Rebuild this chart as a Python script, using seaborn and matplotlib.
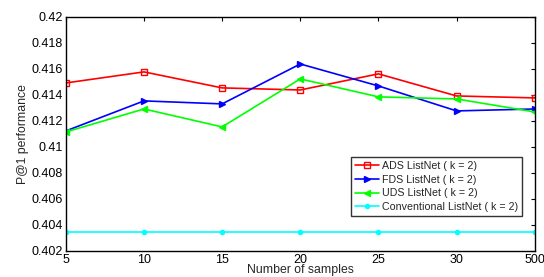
import matplotlib
matplotlib.use("Agg")
import matplotlib.pyplot as plt
import seaborn as sns
import pandas as pd

samples = ["5", "10", "15", "20", "25", "30", "500"]
ads = [0.41492, 0.41577, 0.41454, 0.41438, 0.41562, 0.41392, 0.41377]
fds = [0.41123, 0.41354, 0.41331, 0.41638, 0.41469, 0.41277, 0.41292]
uds = [0.41115, 0.41292, 0.41154, 0.41523, 0.41385, 0.41369, 0.41269]
conv = [0.40346, 0.40346, 0.40346, 0.40346, 0.40346, 0.40346, 0.40346]
names = ["ADS ListNet ( k = 2)", "FDS ListNet ( k = 2)", "UDS ListNet ( k = 2)",
         "Conventional ListNet ( k = 2)"]
yticks = [0.402, 0.404, 0.406, 0.408, 0.41, 0.412, 0.414, 0.416, 0.418, 0.42]

sns.set_style("white")
plt.rcParams['font.family'] = ['Liberation Sans', 'DejaVu Sans']
plt.rcParams['font.size'] = 9

rows = []
for name, vals in zip(names, [ads, fds, uds, conv]):
    for s, v in zip(samples, vals):
        rows.append({"samples": s, "value": v, "series": name})
df = pd.DataFrame(rows)

fig = plt.figure(figsize=(5.44, 2.77), dpi=100)
ax = fig.add_axes([0.121, 0.094, 0.862, 0.845])

colors = ["#ff0000", "#0000ff", "#00ff00", "#00ffff"]
markers = ["s", ">", "<", "o"]
msizes = [4, 5, 5, 3]
mfcs = ["none", "#0000ff", "#00ff00", "#00ffff"]
for name, c, m, ms, mfc in zip(names, colors, markers, msizes, mfcs):
    sub = df[df["series"] == name]
    sns.lineplot(data=sub, x="samples", y="value", ax=ax, color=c, marker=m,
                 markersize=ms, markerfacecolor=mfc, markeredgecolor=c,
                 markeredgewidth=1.0, linewidth=1.2, label=name, sort=False)

ax.set_xlim(0, len(samples) - 1)
ax.set_ylim(0.402, 0.42)
ax.set_yticks(yticks)
ax.set_yticklabels([f"{t:g}" for t in yticks])
ax.set_xticks(range(len(samples)))
ax.set_xticklabels(samples)
ax.tick_params(direction="in", length=3, top=True, right=True, width=0.8,
               labelsize=9, colors="black", pad=2)
for sp in ax.spines.values():
    sp.set_visible(True)
    sp.set_color("black")
    sp.set_linewidth(1.0)
ax.set_xlabel("Number of samples", fontsize=8.8, labelpad=-1)
ax.set_ylabel("P@1 performance", fontsize=8.8, labelpad=2)

leg = ax.legend(loc="lower right", bbox_to_anchor=(0.972, 0.15), fontsize=7.7,
                frameon=True, fancybox=False, borderpad=0.35, labelspacing=0.35,
                handlelength=2.2, handletextpad=0.3, borderaxespad=0)
leg.get_frame().set_edgecolor("black")
leg.get_frame().set_linewidth(1.0)

fig.savefig("out.png", dpi=100)
